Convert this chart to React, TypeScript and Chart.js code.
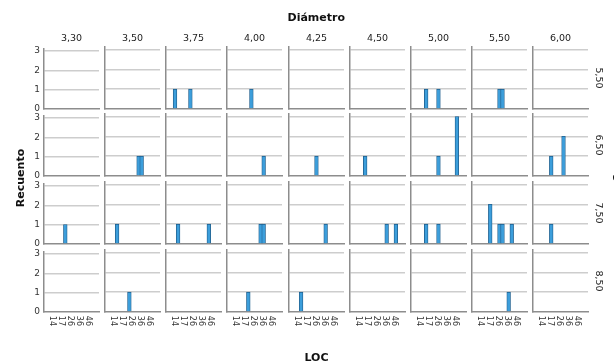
import React, { useEffect, useRef } from "react";
import { Chart, registerables } from "chart.js";

Chart.register(...registerables);

// ---- data ----
const COLUMN_LABELS = ["3,30", "3,50", "3,75", "4,00", "4,25", "4,50", "5,00", "5,50", "6,00"];
const ROW_LABELS = ["5,50", "6,50", "7,50", "8,50"];
const X_TICK_LABELS = ["14", "17", "26", "36", "46"];
const X_TICK_POS = [-0.33, 2.63, 5.49, 8.41, 11.5];
const Y_TICKS = [0, 1, 2, 3];

// [column index, LOC bin index, count]
const ROW_5_50: number[][] = [[2, 0, 1], [2, 5, 1], [3, 5, 1], [6, 2, 1], [6, 6, 1], [7, 6, 1], [7, 7, 1]];
const ROW_6_50: number[][] = [[1, 8, 1], [1, 9, 1], [3, 9, 1], [4, 6, 1], [5, 2, 1], [6, 6, 1], [6, 12, 3], [8, 3, 1], [8, 7, 2]];
const ROW_7_50: number[][] = [[0, 4, 1], [1, 1, 1], [2, 1, 1], [2, 11, 1], [3, 8, 1], [3, 9, 1], [4, 9, 1], [5, 9, 1], [5, 12, 1], [6, 2, 1], [6, 6, 1], [7, 3, 2], [7, 6, 1], [7, 7, 1], [7, 10, 1], [8, 3, 1]];
const ROW_8_50: number[][] = [[1, 5, 1], [3, 4, 1], [4, 1, 1], [7, 9, 1]];
const ROWS = [ROW_5_50, ROW_6_50, ROW_7_50, ROW_8_50];

// ---- layout ----
const FONT = '"DejaVu Sans", sans-serif';
const COL_X = 44;
const COL_STEP = 61.15;
const PLOT_W = 55;
const ROW_TOP = 46.7;
const ROW_STEP = 67.7;
const PLOT_H = 62;
const YW = 24;
const PADT = 8;
const PADR = 8;
const XH = 20;
const CW = YW + PLOT_W + PADR;
const CH = PADT + PLOT_H + XH;

function Panel({ row, col }: { row: number; col: number }) {
  const ref = useRef<HTMLCanvasElement>(null);
  useEffect(() => {
    const bars = ROWS[row].filter((b) => b[0] === col).map((b) => ({ x: b[1], y: b[2] }));
    const showY = col === 0;
    const showX = row === ROWS.length - 1;
    const chart = new Chart(ref.current!, {
      type: "bar",
      data: {
        datasets: [
          {
            data: bars as any,
            backgroundColor: "#3c9edb",
            borderColor: "#1f5e8c",
            borderWidth: 0.8,
            barThickness: 3.7,
            borderSkipped: "start",
          },
        ],
      },
      options: {
        animation: false,
        responsive: false,
        devicePixelRatio: 1,
        layout: { padding: { top: PADT, right: PADR, left: 0, bottom: 0 } },
        plugins: { legend: { display: false }, tooltip: { enabled: false } },
        scales: {
          x: {
            type: "linear",
            min: -1.15,
            max: 13.18,
            afterBuildTicks: (s: any) => {
              s.ticks = X_TICK_POS.map((v) => ({ value: v }));
            },
            afterFit: (s: any) => {
              s.height = XH;
            },
            grid: { display: false, drawTicks: false, tickLength: 0 },
            border: { display: true, color: "#8d8d8d", width: 1.5 },
            ticks: {
              display: showX,
              autoSkip: false,
              minRotation: -90,
              maxRotation: -90,
              padding: 14,
              color: "#333",
              font: { family: FONT, size: 8 },
              callback: (_v: any, i: number) => X_TICK_LABELS[i],
            },
          },
          y: {
            type: "linear",
            min: 0,
            max: 3.13,
            afterBuildTicks: (s: any) => {
              s.ticks = Y_TICKS.map((v) => ({ value: v }));
            },
            afterFit: (s: any) => {
              s.width = YW;
            },
            grid: {
              drawTicks: false,
              tickLength: 0,
              lineWidth: 1.5,
              color: (c: any) => (c.tick && c.tick.value === 0 ? "rgba(0,0,0,0)" : "#cdcdcd"),
            },
            border: { display: true, color: "#8d8d8d", width: 1.5 },
            ticks: {
              display: showY,
              padding: 4,
              color: "#333",
              font: { family: FONT, size: 9 },
              callback: (v: any) => String(v),
            },
          },
        },
      } as any,
    });
    return () => chart.destroy();
  }, [row, col]);
  const left = Math.round(COL_X + col * COL_STEP) - YW;
  const top = Math.round(ROW_TOP + row * ROW_STEP) - PADT;
  return (
    <canvas
      ref={ref}
      width={CW}
      height={CH}
      style={{ position: "absolute", left, top, width: CW, height: CH }}
    />
  );
}

function Label({
  x,
  y,
  text,
  size,
  bold,
  rotate,
  color,
}: {
  x: number;
  y: number;
  text: string;
  size: number;
  bold?: boolean;
  rotate?: number;
  color?: string;
}) {
  return (
    <div
      style={{
        position: "absolute",
        left: x,
        top: y,
        transform: `translate(-50%, -50%) rotate(${rotate || 0}deg)`,
        fontFamily: FONT,
        fontSize: size,
        lineHeight: `${size}px`,
        fontWeight: bold ? 700 : 400,
        whiteSpace: "nowrap",
        color: color || "#111",
      }}
    >
      {text}
    </div>
  );
}

export default function App() {
  const panels: React.ReactNode[] = [];
  for (let r = 0; r < ROW_LABELS.length; r++) {
    for (let c = 0; c < COLUMN_LABELS.length; c++) {
      panels.push(<Panel key={`${r}-${c}`} row={r} col={c} />);
    }
  }
  return (
    <div
      style={{
        position: "fixed",
        left: 0,
        top: 0,
        width: 614,
        height: 362,
        overflow: "hidden",
        background: "#fff",
      }}
    >
      {panels}
      <Label x={316.3} y={16.5} text="Diámetro" size={11} bold />
      {COLUMN_LABELS.map((t, c) => (
        <Label key={t} x={Math.round(COL_X + c * COL_STEP) + PLOT_W / 2} y={38} text={t} size={9.5} color="#222" />
      ))}
      {ROW_LABELS.map((t, r) => (
        <Label
          key={t}
          x={599}
          y={Math.round(ROW_TOP + r * ROW_STEP) + PLOT_H / 2}
          text={t}
          size={9.5}
          rotate={90}
          color="#222"
        />
      ))}
      <Label x={20} y={178} text="Recuento" size={11} bold rotate={-90} />
      <Label x={316.5} y={357} text="LOC" size={11} bold />
      <Label x={618.1} y={179} text="Longitud" size={11} bold rotate={90} />
    </div>
  );
}
